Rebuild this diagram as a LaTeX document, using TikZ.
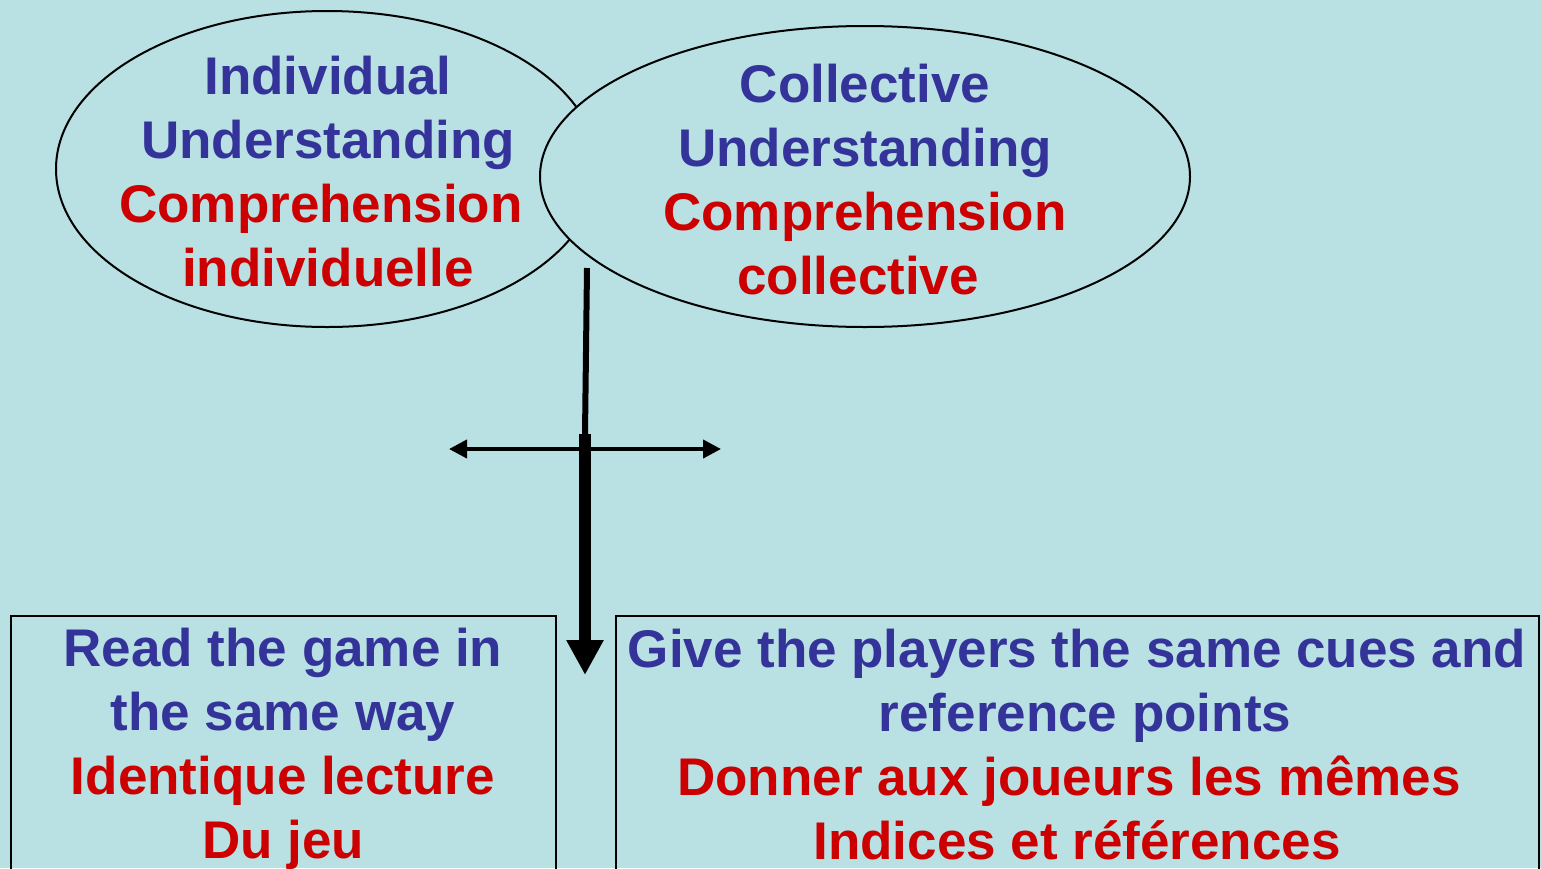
\documentclass[tikz,border=0pt]{standalone}
\usepackage{fontspec}
\setmainfont{Liberation Sans}
\usetikzlibrary{arrows.meta,shapes.geometric}
\definecolor{sky}{RGB}{185,224,227}
\definecolor{engl}{RGB}{51,51,153}
\definecolor{fren}{RGB}{204,0,0}
\newcommand{\bluline}[1]{\textcolor{engl}{#1}}
\newcommand{\redline}[1]{\textcolor{fren}{#1}}
\newcommand{\pad}[1]{\hbox to #1{}}

\begin{document}
\begin{tikzpicture}[x=0.5pt,y=-0.5pt,
	oval/.style={ellipse,draw,fill=sky,line width=1pt,inner sep=0pt},
	frame/.style={rectangle,draw,line width=1pt,inner sep=0pt,anchor=north west},
	txt/.style={align=center,inner sep=0pt,font=\bfseries\fontsize{26.5}{32}\selectfont}]
	\clip (0,0) rectangle (1541,868);
	\fill[sky] (0,0) rectangle (1541,868);
	\node[oval,minimum width=271pt,minimum height=158pt] (indiv) at (327,169) {};
	\node[txt] (indivtxt) at (328,172) {\bluline{Individual}\\\bluline{Understanding}\\\redline{Comprehension}\pad{7pt}\\\redline{individuelle}};
	\node[oval,minimum width=325pt,minimum height=150.5pt] (collec) at (865,176.5) {};
	\node[txt] (collectxt) at (865,180) {\bluline{Collective}\\\bluline{Understanding}\\\redline{Comprehension}\\\redline{collective}\pad{7pt}};
	\node[frame,minimum width=272.5pt,minimum height=150pt] (readbox) at (10,615) {};
	\node[frame,minimum width=461.5pt,minimum height=150pt] (cuesbox) at (615,615) {};
	\node[txt] (readtxt) at (283,749) {\bluline{Read the game in}\\\bluline{the same way}\\\redline{Identique lecture}\\\redline{Du jeu}};
	\node[txt] (cuestxt) at (1077,745) {\bluline{Give the players the same cues and}\\\pad{8pt}\bluline{reference points}\\\redline{Donner aux joueurs les mêmes}\pad{8pt}\\\redline{Indices et références}};
	\coordinate (stem) at (587,268);
	\coordinate (split) at (585,434);
	\coordinate (tip) at (585,675);
	\coordinate (west) at (449,449);
	\coordinate (east) at (721,449);
	\draw[line width=3pt] (stem)--(split);
	\draw[line width=2pt,{Triangle[length=9pt,width=9pt]}-{Triangle[length=9pt,width=9pt]}] (west)--(east);
	\draw[line width=6pt,-{Triangle[length=17.5pt,width=17.5pt]}] (split)--(tip);
\end{tikzpicture}
\end{document}
